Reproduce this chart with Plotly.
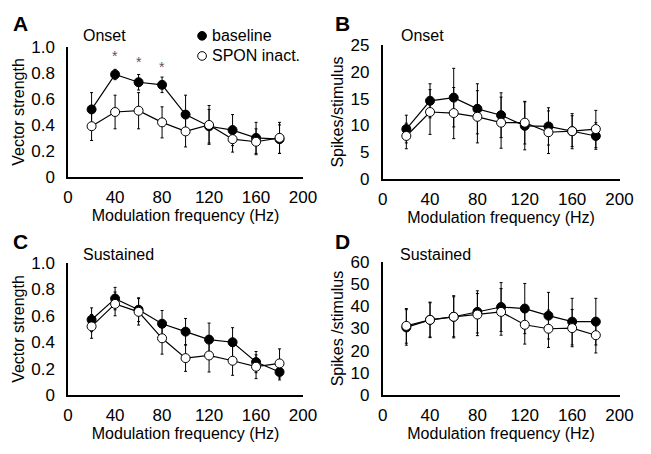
import plotly.graph_objects as go

freq = [20, 40, 60, 80, 100, 120, 140, 160, 180]

# Panel A: Onset vector strength
a_base = [0.52, 0.79, 0.73, 0.71, 0.48, 0.39, 0.36, 0.30, 0.29]
a_base_err = [0.13, 0.04, 0.06, 0.06, 0.15, 0.13, 0.12, 0.12, 0.11]
a_spon = [0.39, 0.50, 0.51, 0.42, 0.35, 0.40, 0.29, 0.27, 0.30]
a_spon_err = [0.11, 0.13, 0.14, 0.12, 0.12, 0.15, 0.10, 0.10, 0.12]

# Panel B: Onset spikes/stimulus
b_base = [9.3, 14.6, 15.2, 13.1, 11.9, 9.9, 9.8, 8.9, 8.0]
b_base_err = [2.6, 3.2, 5.5, 4.7, 4.2, 4.5, 3.5, 3.3, 2.5]
b_spon = [8.0, 12.5, 12.3, 11.6, 10.5, 10.5, 8.7, 8.9, 9.3]
b_spon_err = [2.4, 4.2, 4.8, 4.9, 4.8, 4.0, 4.0, 2.9, 3.5]

# Panel C: Sustained vector strength
c_base = [0.57, 0.73, 0.646, 0.54, 0.48, 0.42, 0.40, 0.25, 0.175]
c_base_err = [0.09, 0.085, 0.09, 0.10, 0.10, 0.125, 0.11, 0.08, 0.06]
c_spon = [0.52, 0.69, 0.63, 0.43, 0.28, 0.30, 0.26, 0.215, 0.24]
c_spon_err = [0.09, 0.09, 0.10, 0.12, 0.10, 0.125, 0.11, 0.09, 0.11]

# Panel D: Sustained spikes/stimulus
d_base = [30.5, 33.9, 35.3, 37.5, 39.7, 39.0, 35.8, 33.1, 33.1]
d_base_err = [8.0, 7.7, 9.0, 9.5, 11.0, 11.3, 10.5, 10.5, 10.5]
d_spon = [31.2, 33.9, 35.3, 36.3, 37.5, 31.7, 29.9, 30.2, 27.0]
d_spon_err = [7.8, 8.0, 9.5, 9.5, 10.5, 8.7, 8.4, 8.4, 8.0]

star_freq = [40, 60, 80]
star_y = [0.93, 0.89, 0.85]

vs_ticks = [0, 0.2, 0.4, 0.6, 0.8, 1.0]
vs_ticktext = ["0", "0.2", "0.4", "0.6", "0.8", "1.0"]
x_ticks = [0, 40, 80, 120, 160, 200]

legend_names = ["baseline", "SPON inact."]

W, H = 651, 454
FONT = "Liberation Sans, Arial, sans-serif"

fig = go.Figure()

panels = [
    ("x", "y", a_base, a_base_err, a_spon, a_spon_err),
    ("x2", "y2", b_base, b_base_err, b_spon, b_spon_err),
    ("x3", "y3", c_base, c_base_err, c_spon, c_spon_err),
    ("x4", "y4", d_base, d_base_err, d_spon, d_spon_err),
]

for xa, ya, base, berr, spon, serr in panels:
    fig.add_trace(go.Scatter(
        x=freq, y=base, mode="lines+markers", xaxis=xa, yaxis=ya, showlegend=False,
        line=dict(color="black", width=1.2),
        marker=dict(symbol="circle", size=9, color="black", line=dict(color="black", width=1)),
        error_y=dict(type="data", array=berr, color="black", thickness=1, width=1.5),
    ))
    fig.add_trace(go.Scatter(
        x=freq, y=spon, mode="lines+markers", xaxis=xa, yaxis=ya, showlegend=False,
        line=dict(color="black", width=1.2),
        marker=dict(symbol="circle", size=9, color="white", line=dict(color="black", width=1)),
        error_y=dict(type="data", array=serr, color="black", thickness=1, width=1.5),
    ))


def px_x(p):
    return p / W


def px_y(p):
    return 1 - p / H


TICKF = dict(family=FONT, size=17, color="black")
TITF = dict(family=FONT, size=16, color="black")

axis_common = dict(showgrid=False, zeroline=False, showline=True, linecolor="black", linewidth=1.5,
                   ticks="", tickfont=TICKF)

xt = dict(text="Modulation frequency (Hz)", font=TITF, standoff=2)

layout_axes = {
    "xaxis": dict(domain=[px_x(65), px_x(307)], range=[0, 200], tickvals=x_ticks, anchor="y", title=xt,
                  ticklabelstandoff=4, **axis_common),
    "yaxis": dict(domain=[px_y(175), px_y(40)], range=[0, 1.0], tickvals=vs_ticks, ticktext=vs_ticktext, anchor="x",
                  ticklabelstandoff=8, title=dict(text="Vector strength", font=TITF, standoff=3), **axis_common),
    "xaxis2": dict(domain=[px_x(389), px_x(633)], range=[0, 200], tickvals=x_ticks, anchor="y2", title=xt,
                   ticklabelstandoff=4, **axis_common),
    "yaxis2": dict(domain=[px_y(177), px_y(38)], range=[0, 25], tickvals=[0, 5, 10, 15, 20, 25], anchor="x2",
                   ticklabelstandoff=8, title=dict(text="Spikes/stimulus", font=TITF, standoff=3), **axis_common),
    "xaxis3": dict(domain=[px_x(65), px_x(307)], range=[0, 200], tickvals=x_ticks, anchor="y3", title=xt,
                   ticklabelstandoff=4, **axis_common),
    "yaxis3": dict(domain=[px_y(403), px_y(265)], range=[0, 1.0], tickvals=vs_ticks, ticktext=vs_ticktext, anchor="x3",
                   ticklabelstandoff=8, title=dict(text="Vector strength", font=TITF, standoff=3), **axis_common),
    "xaxis4": dict(domain=[px_x(389), px_x(633)], range=[0, 200], tickvals=x_ticks, anchor="y4", title=xt,
                   ticklabelstandoff=4, **axis_common),
    "yaxis4": dict(domain=[px_y(403), px_y(264)], range=[0, 60], tickvals=[0, 10, 20, 30, 40, 50, 60], anchor="x4",
                   ticklabelstandoff=8, title=dict(text="Spikes /stimulus", font=TITF, standoff=3), **axis_common),
}

annotations = []
for lbl, x, y in [("A", 16, 15), ("B", 348, 15), ("C", 16, 243), ("D", 348, 243)]:
    annotations.append(dict(text=f"<b>{lbl}</b>", x=px_x(x), y=px_y(y), xref="paper", yref="paper",
                            xanchor="center", yanchor="middle", showarrow=False,
                            font=dict(family=FONT, size=21, color="black")))
for txt, x, y in [("Onset", 103, 28), ("Onset", 430, 28), ("Sustained", 117, 256), ("Sustained", 443, 256)]:
    annotations.append(dict(text=txt, x=px_x(x), y=px_y(y), xref="paper", yref="paper",
                            xanchor="center", yanchor="middle", showarrow=False, font=TITF))
for fx, fy in zip(star_freq, star_y):
    annotations.append(dict(text="*", x=fx, y=fy, xref="x", yref="y", xanchor="center", yanchor="middle",
                            showarrow=False, font=dict(family=FONT, size=14, color="#555555")))

# legend (top of panel A): circles as shapes, names as annotations
shapes = []
leg_rows = [(28, "black"), (49, "white")]
for name, (ly, fill) in zip(legend_names, leg_rows):
    shapes.append(dict(type="circle", xref="paper", yref="paper",
                       x0=px_x(198.5), x1=px_x(207.5), y0=px_y(ly + 4.5), y1=px_y(ly - 4.5),
                       fillcolor=fill, line=dict(color="black", width=1)))
    annotations.append(dict(text=name, x=px_x(211), y=px_y(ly), xref="paper", yref="paper",
                            xanchor="left", yanchor="middle", showarrow=False, font=TITF))

fig.update_layout(
    width=W, height=H,
    margin=dict(l=0, r=0, t=0, b=0),
    paper_bgcolor="white", plot_bgcolor="white",
    showlegend=False,
    annotations=annotations,
    shapes=shapes,
    **layout_axes,
)

fig.write_html("out.html", config={"displayModeBar": False},
               post_script="document.body.style.margin='0px';")
